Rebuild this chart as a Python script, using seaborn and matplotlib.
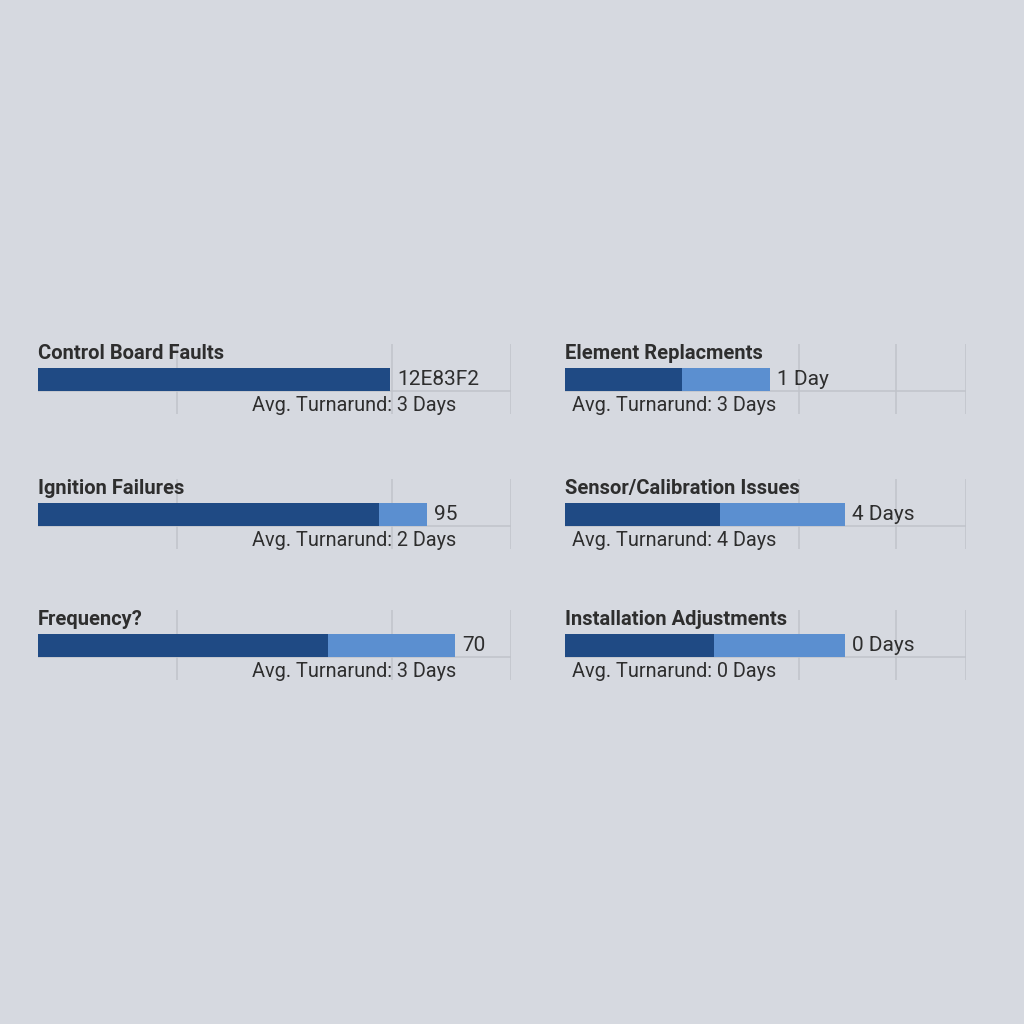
import numpy as np
import pandas as pd
import matplotlib.pyplot as plt
import seaborn as sns

categories = ["Control Board Faults", "Element Replacments", "Ignition Failures",
              "Sensor/Calibration Issues", "Frequency?", "Installation Adjustments"]
primary = [74.4, 29.2, 72.1, 38.7, 61.3, 37.2]
total = [74.4, 51.1, 82.2, 69.8, 88.2, 69.8]
value_labels = ["12E83F2", "1 Day", "95", "4 Days", "70", "0 Days"]
turnaround = ["3 Days", "3 Days", "2 Days", "4 Days", "3 Days", "0 Days"]

left_grid = [29.4, 74.8, 100]
right_grid = [58.4, 82.5, 100]

BG = "#d6d9e0"
DARK = "#1f4a84"
LIGHT = "#5b8fd0"
TEXT = "#2e2e2e"
GRID = "#c1c4cb"

sns.set_theme(style="white")
plt.rcParams["font.family"] = ["Roboto", "DejaVu Sans"]

fig = plt.figure(figsize=(10.24, 10.24), dpi=100)
fig.patch.set_facecolor(BG)

W = H = 1024.0
col_x = [(38, 511), (565, 966)]
bar_tops = [368, 503, 634]

for i, name in enumerate(categories):
    row, col = divmod(i, 2)
    x0, x1 = col_x[col]
    top = bar_tops[row] - 24
    ax = fig.add_axes([x0 / W, 1 - (top + 70) / H, (x1 - x0) / W, 70 / H])
    ax.set_facecolor("none")

    df = pd.DataFrame({"cat": [name], "total": [total[i]], "primary": [primary[i]]})
    grid = left_grid if col == 0 else right_grid
    for g in grid:
        ax.axvline(g, color=GRID, lw=1.1, zorder=0)
    ax.axhline(0.4, xmin=0, xmax=1, color=GRID, lw=1.1, zorder=0)

    sns.barplot(data=df, x="total", y="cat", color=LIGHT, width=0.8,
                saturation=1, linewidth=0, ax=ax, zorder=2)
    sns.barplot(data=df, x="primary", y="cat", color=DARK, width=0.8,
                saturation=1, linewidth=0, ax=ax, zorder=3)

    ax.set_xlim(0, 100)
    ax.set_ylim(1.2, -1.235)
    ax.axis("off")

    ax.text(0, -0.9, name, fontsize=14.5, fontweight="bold", color=TEXT,
            va="center", ha="left")
    ax.annotate(value_labels[i], (total[i], 0), xytext=(5, 0),
                textcoords="offset points", fontsize=15, color=TEXT,
                va="center", ha="left")
    avg_x = 45.2 if col == 0 else 1.7
    ax.text(avg_x, 0.9, "Avg. Turnarund: " + turnaround[i], fontsize=14.3,
            color=TEXT, va="center", ha="left")

fig.savefig("out.png", dpi=100, facecolor=BG)
